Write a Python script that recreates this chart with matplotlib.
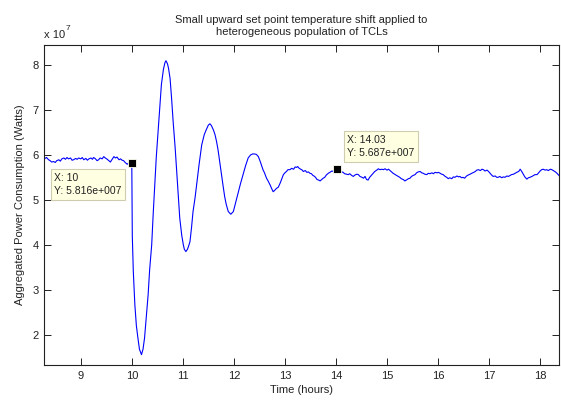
import matplotlib
matplotlib.use("Agg")
import matplotlib.pyplot as plt
from matplotlib.ticker import FuncFormatter, MultipleLocator

plt.rcParams["font.family"] = ["Liberation Sans", "DejaVu Sans"]

# time axis (hours) and aggregated power (in units of 1e7 W)
hours = [
    8.27, 8.30, 8.33, 8.37, 8.40, 8.43, 8.47, 8.50, 8.53, 8.57, 8.60, 8.63, 8.67, 8.70,
    8.73, 8.76, 8.80, 8.83, 8.86, 8.90, 8.93, 8.96, 9.00, 9.03, 9.06, 9.10, 9.13, 9.16,
    9.20, 9.23, 9.25, 9.28, 9.32, 9.35, 9.38, 9.42, 9.45, 9.48, 9.52, 9.55, 9.58, 9.61,
    9.65, 9.68, 9.71, 9.75, 9.78, 9.81, 9.84, 9.87, 9.91, 9.94, 9.97, 10.00,
    10.01, 10.03, 10.06, 10.09, 10.12, 10.15, 10.19, 10.22, 10.25, 10.28, 10.32, 10.35,
    10.39, 10.42, 10.45, 10.48, 10.52, 10.55, 10.58, 10.62, 10.65, 10.67, 10.70, 10.72,
    10.75, 10.78, 10.81, 10.85, 10.88, 10.91, 10.94, 10.98, 11.01, 11.03, 11.06, 11.09,
    11.11, 11.14, 11.17, 11.20, 11.24, 11.27, 11.32, 11.37, 11.42, 11.46, 11.50, 11.53,
    11.56, 11.60, 11.63, 11.66, 11.69, 11.73, 11.76, 11.79, 11.82, 11.85, 11.89, 11.94,
    11.99, 12.03, 12.08, 12.13, 12.18, 12.23, 12.28, 12.33, 12.37, 12.40, 12.44, 12.48,
    12.52, 12.57, 12.60, 12.64, 12.67, 12.71, 12.74, 12.77, 12.80, 12.83, 12.87, 12.91,
    12.94, 12.97, 13.00, 13.03, 13.06, 13.10, 13.13, 13.17, 13.20, 13.23, 13.25, 13.28,
    13.31, 13.34, 13.36, 13.40, 13.43, 13.46, 13.49, 13.52, 13.55, 13.57, 13.60, 13.63,
    13.66, 13.69, 13.72, 13.75, 13.78, 13.81, 13.85, 13.88, 13.92, 13.95, 13.98, 14.01,
    14.03, 14.06, 14.09, 14.12, 14.14, 14.17, 14.21, 14.24, 14.27, 14.31, 14.34, 14.37,
    14.41, 14.44, 14.47, 14.51, 14.54, 14.57, 14.60, 14.63, 14.66, 14.70, 14.73, 14.76,
    14.80, 14.83, 14.86, 14.90, 14.93, 14.96, 15.00, 15.03, 15.06, 15.09, 15.12, 15.16,
    15.19, 15.22, 15.25, 15.28, 15.32, 15.35, 15.38, 15.42, 15.45, 15.48, 15.51, 15.55,
    15.58, 15.61, 15.65, 15.68, 15.71, 15.74, 15.78, 15.81, 15.84, 15.88, 15.91, 15.94,
    15.98, 16.01, 16.04, 16.07, 16.10, 16.14, 16.17, 16.20, 16.23, 16.27, 16.30, 16.33,
    16.37, 16.40, 16.43, 16.46, 16.49, 16.52, 16.56, 16.59, 16.63, 16.66, 16.70, 16.73,
    16.76, 16.79, 16.83, 16.86, 16.89, 16.92, 16.96, 16.99, 17.02, 17.05, 17.08, 17.12,
    17.15, 17.18, 17.21, 17.25, 17.28, 17.31, 17.35, 17.38, 17.41, 17.44, 17.48, 17.51,
    17.54, 17.58, 17.61, 17.64, 17.67, 17.70, 17.74, 17.77, 17.80, 17.84, 17.87, 17.90,
    17.94, 17.97, 18.00, 18.03, 18.06, 18.10, 18.13, 18.16, 18.20, 18.23, 18.26, 18.30,
    18.33, 18.37,
]
power_e7 = [
    5.96, 5.92, 5.94, 5.89, 5.87, 5.84, 5.85, 5.83, 5.87, 5.89, 5.86, 5.91, 5.93, 5.90,
    5.94, 5.91, 5.93, 5.88, 5.89, 5.92, 5.90, 5.93, 5.91, 5.94, 5.89, 5.92, 5.88, 5.91,
    5.93, 5.90, 5.94, 5.92, 5.87, 5.89, 5.93, 5.91, 5.96, 5.93, 5.90, 5.87, 5.84, 5.89,
    5.96, 5.93, 5.95, 5.89, 5.91, 5.88, 5.87, 5.83, 5.79, 5.82, 5.84, 5.816,
    4.20, 3.40, 2.67, 2.20, 1.93, 1.68, 1.56, 1.68, 1.93, 2.35, 2.89, 3.45,
    4.00, 4.70, 5.33, 5.95, 6.59, 7.10, 7.56, 7.90, 8.05, 8.09, 8.02, 7.92,
    7.70, 7.25, 6.74, 6.15, 5.63, 5.10, 4.59, 4.20, 4.00, 3.90, 3.85, 3.90,
    3.96, 4.07, 4.38, 4.74, 5.05, 5.33, 5.80, 6.22, 6.45, 6.56, 6.66, 6.69,
    6.65, 6.55, 6.45, 6.30, 6.11, 5.78, 5.52, 5.30, 5.07, 4.90, 4.74, 4.68,
    4.74, 4.92, 5.15, 5.36, 5.56, 5.76, 5.93, 6.00, 6.02, 6.02, 6.01, 5.96,
    5.84, 5.67, 5.60, 5.48, 5.42, 5.33, 5.25, 5.18, 5.21, 5.25, 5.28, 5.38,
    5.47, 5.56, 5.60, 5.63, 5.67, 5.67, 5.70, 5.68, 5.73, 5.72, 5.74, 5.70,
    5.68, 5.66, 5.63, 5.65, 5.61, 5.62, 5.59, 5.58, 5.54, 5.53, 5.50, 5.45,
    5.44, 5.42, 5.45, 5.48, 5.50, 5.55, 5.59, 5.61, 5.64, 5.63, 5.67, 5.69,
    5.687, 5.66, 5.63, 5.62, 5.61, 5.58, 5.57, 5.56, 5.58, 5.54, 5.52, 5.55,
    5.57, 5.56, 5.52, 5.50, 5.48, 5.52, 5.45, 5.44, 5.50, 5.55, 5.59, 5.63,
    5.66, 5.69, 5.67, 5.68, 5.67, 5.69, 5.66, 5.68, 5.65, 5.62, 5.59, 5.56,
    5.54, 5.52, 5.50, 5.47, 5.45, 5.42, 5.44, 5.47, 5.48, 5.52, 5.54, 5.56,
    5.60, 5.62, 5.63, 5.60, 5.59, 5.57, 5.56, 5.59, 5.58, 5.60, 5.58, 5.61,
    5.60, 5.61, 5.59, 5.57, 5.56, 5.52, 5.50, 5.47, 5.49, 5.47, 5.51, 5.50,
    5.53, 5.51, 5.52, 5.49, 5.50, 5.48, 5.53, 5.55, 5.57, 5.59, 5.61, 5.63,
    5.66, 5.67, 5.65, 5.68, 5.67, 5.64, 5.66, 5.63, 5.59, 5.55, 5.52, 5.53,
    5.50, 5.50, 5.52, 5.49, 5.51, 5.50, 5.53, 5.52, 5.54, 5.56, 5.57, 5.59,
    5.61, 5.63, 5.68, 5.63, 5.57, 5.51, 5.46, 5.49, 5.50, 5.52, 5.54, 5.56,
    5.56, 5.60, 5.64, 5.67, 5.68, 5.66, 5.67, 5.65, 5.68, 5.67, 5.65, 5.62,
    5.59, 5.54,
]

# data tips
tip_hours = [10.0, 14.03]
tip_labels = ["Y: 5.816e+007", "Y: 5.687e+007"]
tip_x_labels = ["X: 10", "X: 14.03"]

power = [p * 1e7 for p in power_e7]
tip_power = [power[hours.index(h)] for h in tip_hours]

fig = plt.figure(figsize=(5.61, 4.0), dpi=100)
ax = fig.add_axes([44 / 561, 35 / 400, 515 / 561, 320 / 400])

ax.plot(hours, power, color="#0000ff", lw=0.8)
ax.plot(tip_hours, tip_power, "s", color="black", markersize=5.5,
        markeredgecolor="#fffff0", markeredgewidth=0.6, zorder=5)

ax.set_xlim(8.28, 18.37)
ax.set_ylim(1.33e7, 8.44e7)
ax.xaxis.set_major_locator(MultipleLocator(1))
ax.yaxis.set_major_locator(MultipleLocator(1e7))
ax.yaxis.set_major_formatter(FuncFormatter(lambda v, p: f"{v / 1e7:g}"))
ax.tick_params(direction="in", length=5, width=0.7, top=True, right=True,
               labelsize=8, colors="#222222", pad=4)
for s in ax.spines.values():
    s.set_linewidth(0.8)
    s.set_color("#222222")

ax.set_title("Small upward set point temperature shift applied to\nheterogeneous population of TCLs",
             fontsize=8, pad=7, color="#222222", linespacing=1.3)
ax.set_xlabel("Time (hours)", fontsize=8, labelpad=3, color="#222222")
ax.set_ylabel("Aggregated Power Consumption (Watts)", fontsize=8, labelpad=5, color="#222222")
ax.text(0.0, 1.015, "x 10", transform=ax.transAxes, fontsize=8, ha="left", va="bottom", color="#222222")
ax.text(0.041, 1.04, "7", transform=ax.transAxes, fontsize=6, ha="left", va="bottom", color="#222222")

box = dict(boxstyle="square,pad=0.35", facecolor="#ffffe1", edgecolor="#d0ccb0", linewidth=0.8)
ax.annotate(f"{tip_x_labels[0]}\n{tip_labels[0]}", (tip_hours[0], tip_power[0]),
            xytext=(-10, -10), textcoords="offset pixels", ha="right", va="top",
            multialignment="left", fontsize=7.5, bbox=box, linespacing=1.4, color="#222222")
ax.annotate(f"{tip_x_labels[1]}\n{tip_labels[1]}", (tip_hours[1], tip_power[1]),
            xytext=(10, 11), textcoords="offset pixels", ha="left", va="bottom",
            multialignment="left", fontsize=7.5, bbox=box, linespacing=1.4, color="#222222")

fig.savefig("out.png", dpi=100)
